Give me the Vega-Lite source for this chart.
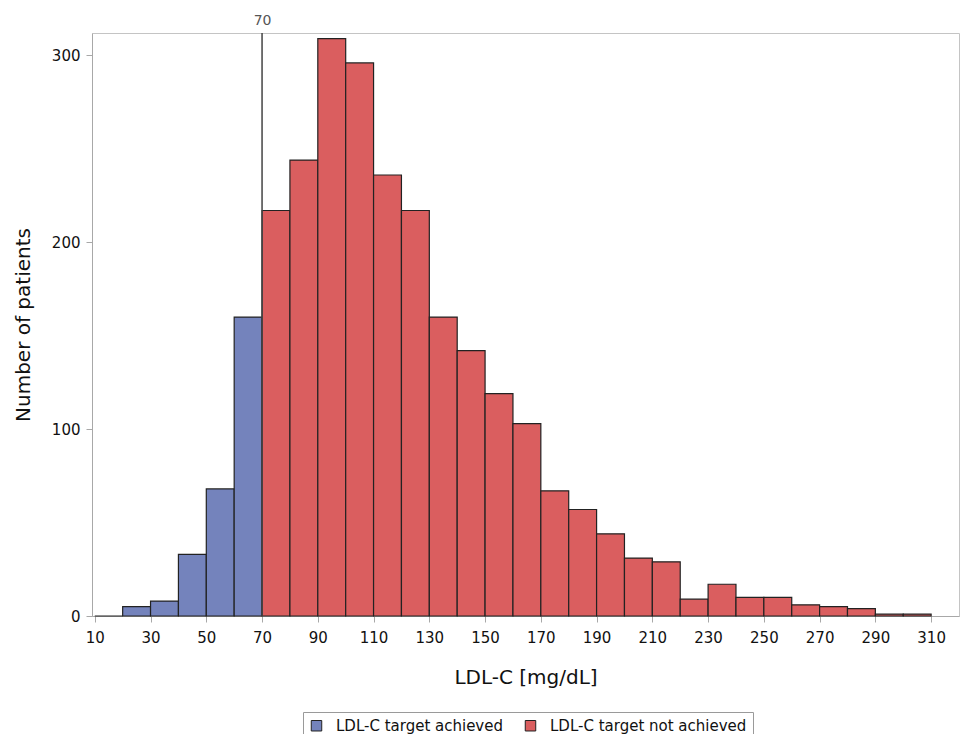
{
  "$schema": "https://vega.github.io/schema/vega-lite/v6.json",
  "autosize": "none",
  "width": 867,
  "height": 583,
  "padding": {"left": 92, "top": 33, "right": 7, "bottom": 118},
  "background": "white",
  "config": {
    "view": {"stroke": "#c4c4c4", "strokeWidth": 1},
    "font": "DejaVu Sans"
  },
  "datasets": {
    "bins": [
      {"start": 10, "end": 20, "count": 0, "group": "LDL-C target achieved"},
      {"start": 20, "end": 30, "count": 5, "group": "LDL-C target achieved"},
      {"start": 30, "end": 40, "count": 8, "group": "LDL-C target achieved"},
      {"start": 40, "end": 50, "count": 33, "group": "LDL-C target achieved"},
      {"start": 50, "end": 60, "count": 68, "group": "LDL-C target achieved"},
      {"start": 60, "end": 70, "count": 160, "group": "LDL-C target achieved"},
      {"start": 70, "end": 80, "count": 217, "group": "LDL-C target not achieved"},
      {"start": 80, "end": 90, "count": 244, "group": "LDL-C target not achieved"},
      {"start": 90, "end": 100, "count": 309, "group": "LDL-C target not achieved"},
      {"start": 100, "end": 110, "count": 296, "group": "LDL-C target not achieved"},
      {"start": 110, "end": 120, "count": 236, "group": "LDL-C target not achieved"},
      {"start": 120, "end": 130, "count": 217, "group": "LDL-C target not achieved"},
      {"start": 130, "end": 140, "count": 160, "group": "LDL-C target not achieved"},
      {"start": 140, "end": 150, "count": 142, "group": "LDL-C target not achieved"},
      {"start": 150, "end": 160, "count": 119, "group": "LDL-C target not achieved"},
      {"start": 160, "end": 170, "count": 103, "group": "LDL-C target not achieved"},
      {"start": 170, "end": 180, "count": 67, "group": "LDL-C target not achieved"},
      {"start": 180, "end": 190, "count": 57, "group": "LDL-C target not achieved"},
      {"start": 190, "end": 200, "count": 44, "group": "LDL-C target not achieved"},
      {"start": 200, "end": 210, "count": 31, "group": "LDL-C target not achieved"},
      {"start": 210, "end": 220, "count": 29, "group": "LDL-C target not achieved"},
      {"start": 220, "end": 230, "count": 9, "group": "LDL-C target not achieved"},
      {"start": 230, "end": 240, "count": 17, "group": "LDL-C target not achieved"},
      {"start": 240, "end": 250, "count": 10, "group": "LDL-C target not achieved"},
      {"start": 250, "end": 260, "count": 10, "group": "LDL-C target not achieved"},
      {"start": 260, "end": 270, "count": 6, "group": "LDL-C target not achieved"},
      {"start": 270, "end": 280, "count": 5, "group": "LDL-C target not achieved"},
      {"start": 280, "end": 290, "count": 4, "group": "LDL-C target not achieved"},
      {"start": 290, "end": 300, "count": 1, "group": "LDL-C target not achieved"},
      {"start": 300, "end": 310, "count": 1, "group": "LDL-C target not achieved"}
    ],
    "ref": [{"line": 70}]
  },
  "layer": [
    {
      "data": {"name": "bins"},
      "mark": {"type": "bar", "orient": "vertical", "stroke": "#222222", "strokeWidth": 1.2, "opacity": 1},
      "encoding": {
        "x": {
          "field": "start", "type": "quantitative",
          "scale": {"domain": [9, 320], "nice": false, "zero": false, "padding": 0},
          "axis": {
            "orient": "bottom",
            "values": [10, 30, 50, 70, 90, 110, 130, 150, 170, 190, 210, 230, 250, 270, 290, 310],
            "grid": false,
            "title": "LDL-C [mg/dL]",
            "titleFontSize": 20,
            "titleFontWeight": "normal",
            "titleColor": "#111111",
            "titlePadding": 22,
            "labelFontSize": 15,
            "labelColor": "#111111",
            "labelPadding": 8,
            "tickColor": "#a8a8a8",
            "tickSize": 6,
            "domainColor": "#a8a8a8"
          }
        },
        "x2": {"field": "end"},
        "y": {
          "field": "count", "type": "quantitative",
          "scale": {"domain": [0, 312], "nice": false, "padding": 0},
          "axis": {
            "values": [0, 100, 200, 300],
            "grid": false,
            "title": "Number of patients",
            "titleFontSize": 20,
            "titleFontWeight": "normal",
            "titleColor": "#111111",
            "titlePadding": 18,
            "labelFontSize": 15,
            "labelColor": "#111111",
            "labelPadding": 6,
            "tickColor": "#a8a8a8",
            "tickSize": 6,
            "domainColor": "#a8a8a8"
          }
        },
        "y2": {"datum": 0},
        "color": {
          "field": "group", "type": "nominal",
          "scale": {
            "domain": ["LDL-C target achieved", "LDL-C target not achieved"],
            "range": ["#7483bc", "#da5e5f"]
          },
          "legend": {
            "title": null,
            "orient": "none",
            "legendX": 211,
            "legendY": 679,
            "direction": "horizontal",
            "symbolType": "square",
            "symbolSize": 110,
            "symbolStrokeColor": "#222222",
            "symbolStrokeWidth": 1,
            "symbolOpacity": 1,
            "labelFontSize": 15,
            "labelColor": "#111111",
            "labelOffset": 12,
            "columnPadding": 20,
            "labelLimit": 400,
            "strokeColor": "#9a9a9a",
            "padding": 6,
            "fillColor": "white"
          }
        }
      }
    },
    {
      "data": {"name": "ref"},
      "mark": {"type": "rule", "color": "#444444", "strokeWidth": 1.5},
      "encoding": {
        "x": {
          "field": "line", "type": "quantitative",
          "axis": {
            "orient": "top",
            "values": [70],
            "title": null,
            "domain": false,
            "ticks": false,
            "grid": false,
            "labelFontSize": 14,
            "labelColor": "#555555",
            "labelPadding": 6
          }
        }
      }
    }
  ],
  "resolve": {"axis": {"x": "independent"}}
}
